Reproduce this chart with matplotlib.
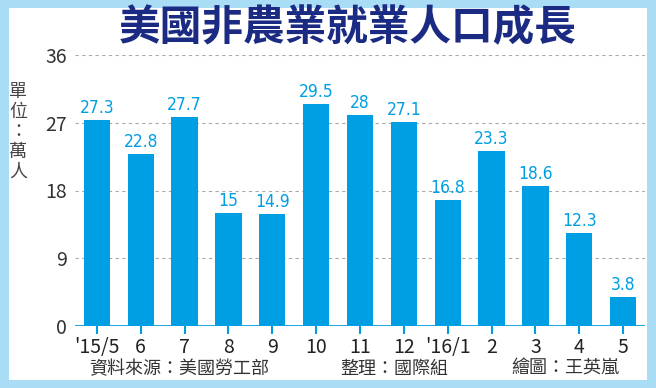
import matplotlib
matplotlib.use("Agg")
from matplotlib import pyplot as plt
from matplotlib.patches import Rectangle

plt.rcParams['font.family'] = ['Noto Sans CJK TC', 'DejaVu Sans']

months = ["'15/5", "6", "7", "8", "9", "10", "11", "12", "'16/1", "2", "3", "4", "5"]
jobs = [27.3, 22.8, 27.7, 15, 14.9, 29.5, 28, 27.1, 16.8, 23.3, 18.6, 12.3, 3.8]
labels = ["27.3", "22.8", "27.7", "15", "14.9", "29.5", "28", "27.1", "16.8", "23.3", "18.6", "12.3", "3.8"]
yticks = [0, 9, 18, 27, 36]

blue = "#009ee2"
navy = "#1b2a82"

fig = plt.figure(figsize=(6.56, 3.88), dpi=100)
# light blue frame
fig.patches.append(Rectangle((0, 0), 1, 1, transform=fig.transFigure,
                             facecolor="#a9dcf5", edgecolor="none", zorder=-2))
fig.patches.append(Rectangle((9/656, 8/388), 1 - 18/656, 1 - 16/388, transform=fig.transFigure,
                             facecolor="white", edgecolor="none", zorder=-1))

ax = fig.add_axes([75/656, 1 - 326/388, 570/656, 271/388])
ax.set_facecolor("none")
x = range(len(months))
ax.bar(x, jobs, width=0.6, color=blue, zorder=3)
for i, (v, t) in enumerate(zip(jobs, labels)):
    ax.text(i, v + 0.4, t, ha="center", va="bottom", color=blue, fontsize=12.5,
            fontstretch="condensed", family=['Liberation Sans Narrow', 'DejaVu Sans'])

ax.set_xlim(-0.5, 12.5)
ax.set_ylim(0, 36)
ax.set_yticks(yticks)
ax.set_yticklabels([str(t) for t in yticks], fontsize=14, color="#333333")
for t in yticks[1:]:
    ax.axhline(t, color="#aaaaaa", lw=0.8, ls=(0, (3, 3)), zorder=1)
ax.axhline(0, color=blue, lw=2, zorder=4)
ax.set_xticks(list(x))
ax.set_xticklabels(months, fontsize=14, color="#222222")
ax.tick_params(axis="x", length=6, width=1.5, color=blue, pad=2)
ax.tick_params(axis="y", length=0, pad=6)
for s in ax.spines.values():
    s.set_visible(False)

fig.text(348/656, 1 - 28/388, "美國非農業就業人口成長", ha="center", va="center",
         fontsize=30, fontweight="bold", color=navy)
unit_chars = ["單", "位", "：", "萬", "人"]
for k, c in enumerate(unit_chars):
    fig.text(18/656, 1 - (92 + k * 20)/388, c, ha="center", va="center",
             fontsize=13, color="#444444")

fig.text(179/656, 1 - 369/388, "資料來源：美國勞工部", ha="center", va="center",
         fontsize=13, color="#333333")
fig.text(394/656, 1 - 369/388, "整理：國際組", ha="center", va="center",
         fontsize=13, color="#333333")
fig.text(565/656, 1 - 369/388, "繪圖：王英嵐", ha="center", va="center",
         fontsize=13, color="#333333")

fig.savefig("out.png", dpi=100)
